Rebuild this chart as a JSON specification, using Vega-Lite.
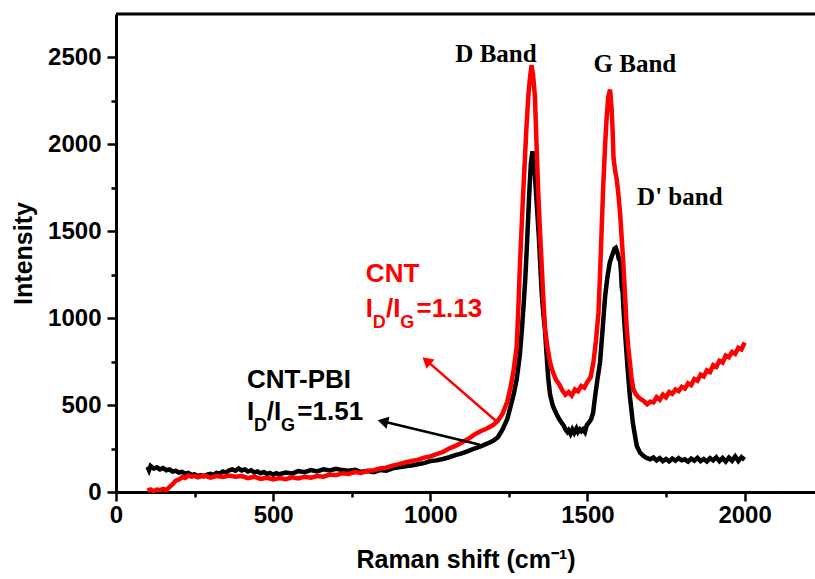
{
  "$schema": "https://vega.github.io/schema/vega-lite/v6.json",
  "autosize": {"type": "none"},
  "width": 699,
  "height": 478,
  "padding": {"left": 116, "top": 14, "right": 0, "bottom": 87},
  "config": {
    "view": {"stroke": null},
    "font": "Liberation Sans",
    "axis": {
      "domainColor": "#000", "domainWidth": 3, "tickColor": "#000", "tickWidth": 2.5,
      "labelColor": "#000", "labelFont": "Liberation Sans", "labelFontSize": 24, "labelFontWeight": "bold",
      "titleColor": "#000", "titleFont": "Liberation Sans", "titleFontWeight": "bold", "grid": false
    }
  },
  "datasets": {
    "pbi": [
      {"x":100,"y":145},{"x":105,"y":125},{"x":110,"y":150},{"x":120,"y":135},{"x":130,"y":142},{"x":140,"y":130},{"x":150,"y":138},{"x":160,"y":125},{"x":170,"y":130},{"x":180,"y":118},{"x":190,"y":122},{"x":200,"y":112},{"x":210,"y":116},{"x":220,"y":105},{"x":230,"y":110},{"x":240,"y":98},{"x":250,"y":102},{"x":260,"y":92},{"x":270,"y":96},{"x":280,"y":90},{"x":290,"y":100},{"x":300,"y":104},{"x":310,"y":98},{"x":320,"y":110},{"x":330,"y":106},{"x":340,"y":118},{"x":350,"y":112},{"x":360,"y":125},{"x":370,"y":130},{"x":380,"y":122},{"x":390,"y":135},{"x":400,"y":124},{"x":410,"y":130},{"x":420,"y":118},{"x":430,"y":125},{"x":440,"y":112},{"x":450,"y":118},{"x":460,"y":108},{"x":470,"y":115},{"x":480,"y":104},{"x":490,"y":110},{"x":500,"y":100},{"x":510,"y":108},{"x":520,"y":102},{"x":540,"y":112},{"x":560,"y":106},{"x":580,"y":120},{"x":600,"y":114},{"x":620,"y":126},{"x":640,"y":118},{"x":660,"y":130},{"x":680,"y":124},{"x":700,"y":134},{"x":720,"y":126},{"x":740,"y":122},{"x":760,"y":128},{"x":780,"y":116},{"x":800,"y":120},{"x":820,"y":114},{"x":840,"y":126},{"x":860,"y":122},{"x":880,"y":136},{"x":900,"y":142},{"x":920,"y":148},{"x":940,"y":152},{"x":960,"y":160},{"x":980,"y":166},{"x":1000,"y":178},{"x":1020,"y":182},{"x":1040,"y":190},{"x":1060,"y":200},{"x":1080,"y":212},{"x":1100,"y":222},{"x":1120,"y":235},{"x":1140,"y":250},{"x":1160,"y":262},{"x":1180,"y":278},{"x":1200,"y":295},{"x":1215,"y":315},{"x":1230,"y":360},{"x":1245,"y":420},{"x":1255,"y":490},{"x":1265,"y":560},{"x":1275,"y":650},{"x":1285,"y":790},{"x":1292,"y":950},{"x":1297,"y":1080},{"x":1302,"y":1220},{"x":1307,"y":1400},{"x":1312,"y":1600},{"x":1316,"y":1760},{"x":1320,"y":1890},{"x":1325,"y":1960},{"x":1330,"y":1900},{"x":1335,"y":1760},{"x":1340,"y":1620},{"x":1345,"y":1480},{"x":1350,"y":1300},{"x":1355,"y":1130},{"x":1360,"y":1020},{"x":1365,"y":930},{"x":1370,"y":790},{"x":1375,"y":660},{"x":1381,"y":560},{"x":1390,"y":495},{"x":1400,"y":455},{"x":1410,"y":420},{"x":1418,"y":398},{"x":1425,"y":380},{"x":1430,"y":360},{"x":1436,"y":345},{"x":1440,"y":355},{"x":1446,"y":335},{"x":1452,"y":360},{"x":1458,"y":340},{"x":1465,"y":365},{"x":1470,"y":345},{"x":1476,"y":360},{"x":1481,"y":350},{"x":1486,"y":360},{"x":1492,"y":345},{"x":1498,"y":385},{"x":1505,"y":400},{"x":1512,"y":420},{"x":1518,"y":456},{"x":1525,"y":560},{"x":1532,"y":650},{"x":1540,"y":745},{"x":1548,"y":930},{"x":1556,"y":1120},{"x":1563,"y":1230},{"x":1571,"y":1320},{"x":1580,"y":1370},{"x":1586,"y":1400},{"x":1590,"y":1405},{"x":1595,"y":1380},{"x":1600,"y":1340},{"x":1604,"y":1330},{"x":1607,"y":1260},{"x":1609,"y":1180},{"x":1612,"y":1150},{"x":1615,"y":1040},{"x":1619,"y":935},{"x":1627,"y":730},{"x":1635,"y":550},{"x":1645,"y":390},{"x":1657,"y":265},{"x":1668,"y":225},{"x":1680,"y":205},{"x":1690,"y":195},{"x":1700,"y":188},{"x":1710,"y":198},{"x":1720,"y":182},{"x":1730,"y":195},{"x":1740,"y":178},{"x":1750,"y":190},{"x":1760,"y":176},{"x":1770,"y":192},{"x":1780,"y":180},{"x":1790,"y":195},{"x":1800,"y":182},{"x":1810,"y":188},{"x":1820,"y":175},{"x":1830,"y":192},{"x":1840,"y":180},{"x":1850,"y":196},{"x":1860,"y":178},{"x":1870,"y":190},{"x":1880,"y":176},{"x":1890,"y":195},{"x":1900,"y":182},{"x":1910,"y":200},{"x":1920,"y":178},{"x":1930,"y":196},{"x":1940,"y":175},{"x":1950,"y":198},{"x":1960,"y":180},{"x":1970,"y":205},{"x":1980,"y":178},{"x":1990,"y":200},{"x":2000,"y":185}
    ],
    "cnt": [
      {"x":100,"y":8},{"x":110,"y":15},{"x":120,"y":5},{"x":130,"y":14},{"x":140,"y":10},{"x":150,"y":18},{"x":160,"y":12},{"x":170,"y":28},{"x":180,"y":45},{"x":190,"y":65},{"x":200,"y":72},{"x":210,"y":85},{"x":220,"y":80},{"x":230,"y":95},{"x":240,"y":88},{"x":250,"y":92},{"x":260,"y":84},{"x":280,"y":95},{"x":300,"y":82},{"x":320,"y":92},{"x":340,"y":86},{"x":360,"y":95},{"x":380,"y":88},{"x":400,"y":92},{"x":420,"y":80},{"x":440,"y":88},{"x":460,"y":75},{"x":480,"y":82},{"x":500,"y":72},{"x":520,"y":80},{"x":540,"y":74},{"x":560,"y":84},{"x":580,"y":78},{"x":600,"y":88},{"x":620,"y":82},{"x":640,"y":92},{"x":660,"y":88},{"x":680,"y":100},{"x":700,"y":96},{"x":720,"y":108},{"x":740,"y":104},{"x":760,"y":115},{"x":780,"y":110},{"x":800,"y":122},{"x":820,"y":125},{"x":840,"y":135},{"x":860,"y":140},{"x":880,"y":152},{"x":900,"y":160},{"x":920,"y":170},{"x":940,"y":178},{"x":960,"y":185},{"x":980,"y":198},{"x":1000,"y":205},{"x":1020,"y":218},{"x":1040,"y":230},{"x":1060,"y":250},{"x":1080,"y":265},{"x":1100,"y":285},{"x":1120,"y":305},{"x":1140,"y":330},{"x":1160,"y":350},{"x":1180,"y":365},{"x":1200,"y":385},{"x":1215,"y":410},{"x":1230,"y":450},{"x":1245,"y":520},{"x":1255,"y":600},{"x":1265,"y":700},{"x":1275,"y":840},{"x":1280,"y":1050},{"x":1285,"y":1300},{"x":1290,"y":1500},{"x":1295,"y":1700},{"x":1300,"y":1880},{"x":1306,"y":2100},{"x":1312,"y":2280},{"x":1317,"y":2380},{"x":1322,"y":2455},{"x":1327,"y":2400},{"x":1333,"y":2270},{"x":1338,"y":2000},{"x":1344,"y":1700},{"x":1349,"y":1500},{"x":1354,"y":1320},{"x":1360,"y":1100},{"x":1365,"y":940},{"x":1372,"y":840},{"x":1381,"y":745},{"x":1390,"y":690},{"x":1400,"y":645},{"x":1410,"y":620},{"x":1420,"y":585},{"x":1430,"y":560},{"x":1440,"y":575},{"x":1450,"y":555},{"x":1460,"y":590},{"x":1470,"y":580},{"x":1480,"y":610},{"x":1490,"y":600},{"x":1500,"y":635},{"x":1510,"y":660},{"x":1519,"y":745},{"x":1527,"y":870},{"x":1535,"y":1030},{"x":1540,"y":1250},{"x":1545,"y":1500},{"x":1550,"y":1750},{"x":1556,"y":1990},{"x":1561,"y":2150},{"x":1566,"y":2270},{"x":1572,"y":2315},{"x":1577,"y":2200},{"x":1580,"y":2080},{"x":1583,"y":1920},{"x":1588,"y":1850},{"x":1593,"y":1800},{"x":1598,"y":1720},{"x":1604,"y":1600},{"x":1609,"y":1460},{"x":1614,"y":1320},{"x":1620,"y":1120},{"x":1625,"y":940},{"x":1630,"y":830},{"x":1635,"y":745},{"x":1640,"y":660},{"x":1646,"y":590},{"x":1655,"y":560},{"x":1665,"y":540},{"x":1678,"y":525},{"x":1690,"y":505},{"x":1700,"y":520},{"x":1710,"y":515},{"x":1720,"y":545},{"x":1730,"y":530},{"x":1740,"y":560},{"x":1750,"y":545},{"x":1760,"y":575},{"x":1770,"y":565},{"x":1780,"y":590},{"x":1790,"y":580},{"x":1800,"y":605},{"x":1810,"y":595},{"x":1820,"y":625},{"x":1830,"y":615},{"x":1840,"y":650},{"x":1850,"y":640},{"x":1860,"y":675},{"x":1870,"y":665},{"x":1880,"y":700},{"x":1890,"y":690},{"x":1900,"y":730},{"x":1910,"y":720},{"x":1920,"y":755},{"x":1930,"y":745},{"x":1940,"y":785},{"x":1950,"y":775},{"x":1960,"y":805},{"x":1970,"y":795},{"x":1980,"y":830},{"x":1990,"y":820},{"x":2000,"y":860}
    ],
    "arrows": [
      {"s":"CNT","x":1212,"y":404,"x2":990,"y2":753},
      {"s":"CNT-PBI","x":1158,"y":272,"x2":851,"y2":406}
    ],
    "heads": [
      {"s":"CNT","x":988,"y":755},
      {"s":"CNT-PBI","x":849,"y":406}
    ],
    "notes": [
      {"g":"band","t":"D Band","x":1209,"y":2475},
      {"g":"band","t":"G Band","x":1651,"y":2419},
      {"g":"band","t":"D' band","x":1794,"y":1653},
      {"g":"redMain","t":"CNT","x":795,"y":1210},
      {"g":"redMain","t":"I","x":795,"y":1008},
      {"g":"redSub","t":"D","x":817,"y":945},
      {"g":"redMain","t":"/I","x":859,"y":1008},
      {"g":"redSub","t":"G","x":904,"y":945},
      {"g":"redMain","t":"=1.13","x":956,"y":1008},
      {"g":"blackMain","t":"CNT-PBI","x":417,"y":597},
      {"g":"blackMain","t":"I","x":417,"y":416},
      {"g":"blackSub","t":"D","x":439,"y":353},
      {"g":"blackMain","t":"/I","x":480,"y":416},
      {"g":"blackSub","t":"G","x":525,"y":353},
      {"g":"blackMain","t":"=1.51","x":577,"y":416}
    ]
  },
  "layer": [
    {
      "data": {"name": "pbi"},
      "mark": {"type": "line", "color": "#000000", "strokeWidth": 4.5},
      "encoding": {
        "x": {"field": "x", "type": "quantitative", "scale": {"domain": [0, 2224], "nice": false, "zero": false},
          "axis": {"title": "Raman shift (cm⁻¹)", "titleFontSize": 25, "titlePadding": 20,
            "values": [0,250,500,750,1000,1250,1500,1750,2000],
            "labelExpr": "datum.value % 500 === 0 ? datum.label : ''",
            "format": "d", "labelPadding": 2, "labelFlush": false,
            "tickSize": {"condition": {"test": "datum.value % 500 === 0", "value": 9}, "value": 5}}},
        "y": {"field": "y", "type": "quantitative", "scale": {"domain": [0, 2750], "nice": false, "zero": false},
          "axis": {"title": "Intensity", "titleFontSize": 25, "titlePadding": 11,
            "values": [0,250,500,750,1000,1250,1500,1750,2000,2250,2500],
            "labelExpr": "datum.value % 500 === 0 ? datum.label : ''",
            "format": "d", "labelPadding": 6, "labelFlush": false,
            "tickSize": {"condition": {"test": "datum.value % 500 === 0", "value": 9}, "value": 5}}}
      }
    },
    {
      "data": {"name": "cnt"},
      "mark": {"type": "line", "color": "#ff0000", "strokeWidth": 4.5},
      "encoding": {
        "x": {"field": "x", "type": "quantitative", "scale": {"domain": [0, 2224], "nice": false, "zero": false}},
        "y": {"field": "y", "type": "quantitative", "scale": {"domain": [0, 2750], "nice": false, "zero": false}}
      }
    },
    {
      "data": {"values": [{}]},
      "mark": {"type": "rule", "color": "#000000", "strokeWidth": 3},
      "encoding": {"y": {"datum": 2750, "type": "quantitative", "scale": {"domain": [0, 2750], "nice": false, "zero": false}}}
    },
    {
      "data": {"name": "arrows"},
      "mark": {"type": "rule", "strokeWidth": 2.5},
      "encoding": {
        "x": {"field": "x", "type": "quantitative", "scale": {"domain": [0, 2224], "nice": false, "zero": false}},
        "y": {"field": "y", "type": "quantitative", "scale": {"domain": [0, 2750], "nice": false, "zero": false}},
        "x2": {"field": "x2"}, "y2": {"field": "y2"},
        "color": {"field": "s", "type": "nominal", "scale": {"domain": ["CNT", "CNT-PBI"], "range": ["#ff0000", "#000000"]}, "legend": null}
      }
    },
    {
      "data": {"name": "heads"},
      "transform": [{"filter": "datum.s === 'CNT'"}],
      "mark": {"type": "point", "shape": "triangle-up", "filled": true, "size": 150, "angle": 311, "opacity": 1},
      "encoding": {
        "x": {"field": "x", "type": "quantitative", "scale": {"domain": [0, 2224], "nice": false, "zero": false}},
        "y": {"field": "y", "type": "quantitative", "scale": {"domain": [0, 2750], "nice": false, "zero": false}},
        "color": {"field": "s", "type": "nominal", "legend": null}
      }
    },
    {
      "data": {"name": "heads"},
      "transform": [{"filter": "datum.s === 'CNT-PBI'"}],
      "mark": {"type": "point", "shape": "triangle-up", "filled": true, "size": 150, "angle": 284, "opacity": 1},
      "encoding": {
        "x": {"field": "x", "type": "quantitative", "scale": {"domain": [0, 2224], "nice": false, "zero": false}},
        "y": {"field": "y", "type": "quantitative", "scale": {"domain": [0, 2750], "nice": false, "zero": false}},
        "color": {"field": "s", "type": "nominal", "legend": null}
      }
    },
    {
      "data": {"name": "notes"},
      "transform": [{"filter": "datum.g === 'band'"}],
      "mark": {"type": "text", "font": "Liberation Serif", "fontWeight": "bold", "fontSize": 25, "align": "center", "baseline": "alphabetic", "color": "#000000"},
      "encoding": {
        "x": {"field": "x", "type": "quantitative", "scale": {"domain": [0, 2224], "nice": false, "zero": false}},
        "y": {"field": "y", "type": "quantitative", "scale": {"domain": [0, 2750], "nice": false, "zero": false}},
        "text": {"field": "t"}
      }
    },
    {
      "data": {"name": "notes"},
      "transform": [{"filter": "datum.g === 'redMain'"}],
      "mark": {"type": "text", "font": "Liberation Sans", "fontWeight": "bold", "fontSize": 26, "align": "left", "baseline": "alphabetic", "color": "#ff0000"},
      "encoding": {
        "x": {"field": "x", "type": "quantitative", "scale": {"domain": [0, 2224], "nice": false, "zero": false}},
        "y": {"field": "y", "type": "quantitative", "scale": {"domain": [0, 2750], "nice": false, "zero": false}},
        "text": {"field": "t"}
      }
    },
    {
      "data": {"name": "notes"},
      "transform": [{"filter": "datum.g === 'redSub'"}],
      "mark": {"type": "text", "font": "Liberation Sans", "fontWeight": "bold", "fontSize": 18, "align": "left", "baseline": "alphabetic", "color": "#ff0000"},
      "encoding": {
        "x": {"field": "x", "type": "quantitative", "scale": {"domain": [0, 2224], "nice": false, "zero": false}},
        "y": {"field": "y", "type": "quantitative", "scale": {"domain": [0, 2750], "nice": false, "zero": false}},
        "text": {"field": "t"}
      }
    },
    {
      "data": {"name": "notes"},
      "transform": [{"filter": "datum.g === 'blackMain'"}],
      "mark": {"type": "text", "font": "Liberation Sans", "fontWeight": "bold", "fontSize": 26, "align": "left", "baseline": "alphabetic", "color": "#000000"},
      "encoding": {
        "x": {"field": "x", "type": "quantitative", "scale": {"domain": [0, 2224], "nice": false, "zero": false}},
        "y": {"field": "y", "type": "quantitative", "scale": {"domain": [0, 2750], "nice": false, "zero": false}},
        "text": {"field": "t"}
      }
    },
    {
      "data": {"name": "notes"},
      "transform": [{"filter": "datum.g === 'blackSub'"}],
      "mark": {"type": "text", "font": "Liberation Sans", "fontWeight": "bold", "fontSize": 18, "align": "left", "baseline": "alphabetic", "color": "#000000"},
      "encoding": {
        "x": {"field": "x", "type": "quantitative", "scale": {"domain": [0, 2224], "nice": false, "zero": false}},
        "y": {"field": "y", "type": "quantitative", "scale": {"domain": [0, 2750], "nice": false, "zero": false}},
        "text": {"field": "t"}
      }
    }
  ]
}
